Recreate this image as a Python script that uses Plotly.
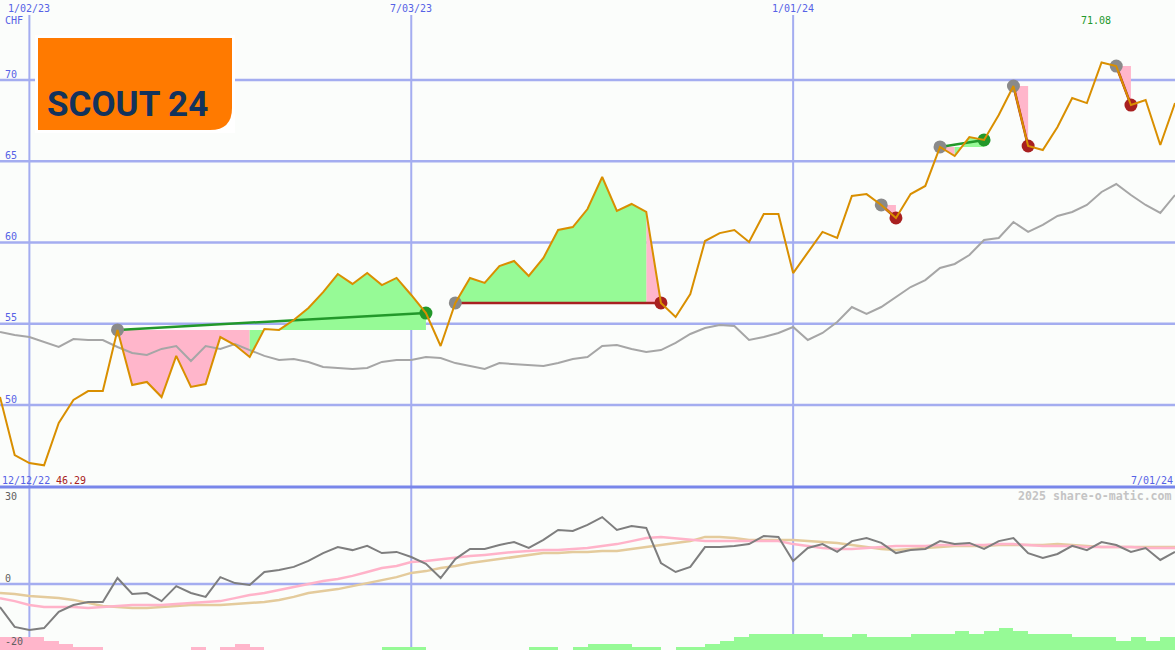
import plotly.graph_objects as go
import pandas as pd

W, H = 1175, 650

# ---------------- data ----------------
dates = pd.date_range("2022-12-19", periods=81, freq="7D")

price = [50.49, 46.92, 46.43, 46.29, 48.89, 50.31, 50.86, 50.86, 54.62, 51.23,
         51.42, 50.49, 53.02, 51.11, 51.29, 54.18, 53.69, 52.95, 54.68, 54.62,
         55.23, 55.97, 56.95, 58.06, 57.45, 58.12, 57.38, 57.82, 56.77, 55.66,
         53.63, 56.28, 57.82, 57.51, 58.55, 58.86, 57.94, 59.05, 60.77, 60.95,
         62.06, 64.03, 61.94, 62.37, 61.88, 56.28, 55.42, 56.83, 60.09, 60.58,
         60.77, 60.03, 61.75, 61.75, 58.12, 59.35, 60.65, 60.28, 62.86, 62.98,
         62.31, 61.51, 62.98, 63.48, 65.88, 65.32, 66.49, 66.31, 67.85, 69.63,
         65.94, 65.69, 67.11, 68.89, 68.58, 71.08, 70.86, 68.46, 68.77, 66.00,
         68.58]

bench = [54.49, 54.31, 54.18, 53.88, 53.57, 54.06, 54.0, 54.0, 53.57, 53.2,
         53.08, 53.45, 53.63, 52.71, 53.63, 53.45, 53.75, 53.38, 53.02, 52.77,
         52.83, 52.65, 52.34, 52.28, 52.22, 52.28, 52.65, 52.77, 52.77, 52.95,
         52.89, 52.58, 52.4, 52.22, 52.58, 52.52, 52.46, 52.4, 52.58, 52.83,
         52.95, 53.63, 53.69, 53.45, 53.26, 53.38, 53.82, 54.37, 54.74, 54.92,
         54.86, 54.0, 54.18, 54.43, 54.8, 54.0, 54.43, 55.11, 56.03, 55.6,
         56.03, 56.65, 57.26, 57.69, 58.43, 58.68, 59.23, 60.15, 60.28, 61.26,
         60.65, 61.08, 61.63, 61.88, 62.31, 63.11, 63.6, 62.92, 62.31, 61.82,
         62.92]

osc = [-7.7, -14.3, -15.3, -14.7, -9.3, -7.0, -6.0, -6.0, 2.0, -3.3,
       -3.0, -5.7, -0.7, -3.0, -4.3, 2.3, 0.3, -0.3, 4.0, 4.7,
       5.7, 7.7, 10.3, 12.3, 11.3, 12.7, 10.3, 10.7, 9.0, 6.7,
       2.0, 8.3, 11.7, 11.7, 13.0, 14.0, 12.0, 14.7, 18.0, 17.7,
       19.7, 22.3, 18.0, 19.3, 18.7, 7.0, 4.0, 5.7, 12.3, 12.3,
       12.7, 13.3, 16.0, 15.7, 7.7, 12.0, 13.3, 10.7, 14.3, 15.3,
       13.7, 10.3, 11.3, 11.7, 14.3, 13.3, 13.7, 11.7, 14.3, 15.3,
       10.3, 8.7, 10.0, 12.7, 11.3, 14.0, 13.0, 10.7, 12.0, 8.0,
       10.7]

osc_fast = [-4.7, -5.7, -7.0, -7.7, -7.7, -7.7, -8.0, -7.7, -7.3, -7.0,
            -7.0, -7.0, -6.7, -6.3, -6.0, -5.7, -4.7, -3.7, -3.0, -2.0,
            -1.0, 0.0, 1.0, 1.7, 2.7, 4.0, 5.3, 6.0, 7.3, 7.7,
            8.3, 8.7, 9.3, 9.7, 10.3, 10.7, 11.0, 11.3, 11.3, 11.7,
            12.0, 12.7, 13.3, 14.3, 15.3, 15.7, 15.3, 14.7, 14.3, 14.3,
            14.3, 14.3, 14.3, 14.3, 13.3, 12.7, 12.0, 11.7, 11.7, 12.0,
            12.3, 12.7, 12.7, 12.7, 13.0, 13.0, 13.0, 13.0, 13.3, 13.3,
            13.0, 12.7, 12.7, 12.7, 12.3, 12.3, 12.3, 12.3, 12.0, 12.0,
            12.0]

osc_slow = [-3.0, -3.3, -4.0, -4.3, -4.7, -5.3, -6.3, -7.3, -7.7, -8.0,
            -8.0, -7.7, -7.3, -7.0, -7.0, -7.0, -6.7, -6.3, -6.0, -5.3,
            -4.3, -3.0, -2.3, -1.7, -0.7, 0.3, 1.3, 2.3, 3.7, 4.3,
            5.3, 6.0, 7.0, 7.7, 8.3, 9.0, 9.7, 10.3, 10.3, 10.7,
            10.7, 11.0, 11.0, 11.7, 12.3, 13.0, 13.7, 14.3, 15.7, 15.7,
            15.3, 14.7, 14.7, 14.7, 14.7, 14.3, 14.0, 13.7, 13.0, 12.3,
            11.7, 11.3, 11.7, 12.0, 12.3, 12.7, 12.7, 12.7, 13.0, 13.0,
            13.0, 13.0, 13.3, 13.0, 12.7, 12.3, 12.3, 12.3, 12.3, 12.3,
            12.3]

hist = [-4, -4, -4, -3, -2, -1, -1, 0, 0, 0,
        0, 0, 0, -1, 0, -1, -2, -1, 0, 0,
        0, 0, 0, 0, 0, 0, 1, 1, 1, 0,
        0, 0, 0, 0, 0, 0, 1, 1, 0, 1,
        2, 2, 2, 1, 1, 0, 1, 1, 2, 3,
        4, 5, 5, 5, 5, 5, 4, 4, 5, 4,
        4, 4, 5, 5, 5, 6, 5, 6, 7, 6,
        5, 5, 5, 4, 4, 4, 3, 4, 3, 4]

trade_entries = [8, 31, 60, 64, 69, 76]
trade_exits = [29, 45, 61, 67, 70, 77]

price_ticks = [70, 65, 60, 55, 50]
osc_ticks = [30, 0, -20]
date_ticks = ["2023-01-02", "2023-07-03", "2024-01-01"]
date_tick_labels = ["1/02/23", "7/03/23", "1/01/24"]
start_label, low_label = "12/12/22", "46.29"
end_label, high_label = "7/01/24", "71.08"

# ---------------- styles ----------------
BG = "#FBFDFB"
GRID = "#A4ADF0"
BLUE_TXT = "#5662E6"
ORANGE = "#D98F00"
PINK = "#FFB6CB"
LGREEN = "#96FA96"
GREEN = "#22982A"
RED = "#A82020"
MONO = "DejaVu Sans Mono, monospace"

SPLIT = 487  # pixel row of separator
main_dom = [1 - SPLIT / H, 1]
low_dom = [0, 1 - SPLIT / H]
main_rng = [70 - (SPLIT - 80) / 16.25, 70 + 80 / 16.25]
low_rng = [(584 - 650) / 3.0, (584 - SPLIT) / 3.0]
hist_rng = [0, (650 - SPLIT) / 3.14]


def px(x):
    return x / W


def py(y):
    return 1 - y / H


fig = go.Figure()

# ---- trade fills ----
gx, gy, rx, ry = [], [], [], []
for e, x in zip(trade_entries, trade_exits):
    lvl = price[e]
    for i in range(e, x):
        xs = [dates[i], dates[i], dates[i + 1], dates[i + 1], dates[i], None]
        ys = [lvl, price[i], price[i + 1], lvl, lvl, None]
        if price[i + 1] > lvl:
            gx += xs
            gy += ys
        else:
            rx += xs
            ry += ys
fig.add_trace(go.Scatter(x=rx, y=ry, fill="toself", fillcolor=PINK, mode="lines",
                         line=dict(width=0, color=PINK), hoverinfo="skip", showlegend=False))
fig.add_trace(go.Scatter(x=gx, y=gy, fill="toself", fillcolor=LGREEN, mode="lines",
                         line=dict(width=0, color=LGREEN), hoverinfo="skip", showlegend=False))

# ---- benchmark ----
fig.add_trace(go.Scatter(x=dates, y=bench, mode="lines", line=dict(color="#A6A6A6", width=2),
                         showlegend=False))

# ---- trade lines & markers ----
for e, x in zip(trade_entries, trade_exits):
    col = GREEN if price[x] > price[e] else RED
    fig.add_trace(go.Scatter(x=[dates[e], dates[x]], y=[price[e], price[x]], mode="lines",
                             line=dict(color=col, width=2.5), showlegend=False))
    fig.add_trace(go.Scatter(x=[dates[e]], y=[price[e]], mode="markers",
                             marker=dict(color="#8A8A8A", size=13, line=dict(width=0)),
                             showlegend=False))
    fig.add_trace(go.Scatter(x=[dates[x]], y=[price[x]], mode="markers",
                             marker=dict(color=col, size=13, line=dict(width=0)),
                             showlegend=False))

# ---- price ----
fig.add_trace(go.Scatter(x=dates, y=price, mode="lines", line=dict(color=ORANGE, width=2),
                         showlegend=False))

# ---- lower panel ----
hx = [dates[i] + pd.Timedelta(hours=84) for i in range(len(hist)) if hist[i] != 0]
hy = [abs(v) for v in hist if v != 0]
hc = [LGREEN if v > 0 else PINK for v in hist if v != 0]
fig.add_trace(go.Bar(x=hx, y=hy, marker=dict(color=hc, line=dict(width=0)),
                     width=7 * 86400000, yaxis="y3", showlegend=False))
fig.add_trace(go.Scatter(x=dates, y=osc_slow, mode="lines", yaxis="y2",
                         line=dict(color="#E4CB9C", width=2.5, shape="linear"), showlegend=False))
fig.add_trace(go.Scatter(x=dates, y=osc_fast, mode="lines", yaxis="y2",
                         line=dict(color="#FFB3C9", width=2.5), showlegend=False))
fig.add_trace(go.Scatter(x=dates, y=osc, mode="lines", yaxis="y2",
                         line=dict(color="#7E7E7E", width=2), showlegend=False))

# ---------------- shapes ----------------
shapes = []
for v in price_ticks:
    shapes.append(dict(type="line", xref="paper", yref="y", x0=0, x1=1, y0=v, y1=v,
                       line=dict(color=GRID, width=2.5), layer="below"))
for d in date_ticks:
    shapes.append(dict(type="line", xref="x", yref="paper", x0=d, x1=d, y0=py(15), y1=0,
                       line=dict(color=GRID, width=2), layer="below"))
shapes.append(dict(type="line", xref="paper", yref="y2", x0=0, x1=1, y0=0, y1=0,
                   line=dict(color=GRID, width=2.5), layer="below"))
shapes.append(dict(type="line", xref="paper", yref="paper", x0=0, x1=1, y0=py(SPLIT), y1=py(SPLIT),
                   line=dict(color="#7886EA", width=3), layer="below"))
# logo
shapes.append(dict(type="rect", xref="paper", yref="paper", x0=px(35), x1=px(235), y0=py(133), y1=py(35),
                   fillcolor="#FFFFFF", line=dict(width=0), layer="above"))
logo_path = (f"M {px(38)} {py(38)} L {px(232)} {py(38)} L {px(232)} {py(108)} "
             f"Q {px(232)} {py(130)} {px(210)} {py(130)} L {px(38)} {py(130)} Z")
shapes.append(dict(type="path", xref="paper", yref="paper", path=logo_path,
                   fillcolor="#FF7A00", line=dict(width=0), layer="above"))

# ---------------- annotations ----------------
ann = []


def txt(text, x, y, color, size=10, xanchor="left", xref="paper", yref="paper", yshift=0, bold=False):
    ann.append(dict(text=f"<b>{text}</b>" if bold else text, x=x, y=y, xref=xref, yref=yref,
                    xanchor=xanchor, yanchor="middle", showarrow=False, yshift=yshift,
                    font=dict(family=MONO, size=size, color=color), borderpad=0))


for d, lab in zip(date_ticks, date_tick_labels):
    txt(lab, d, py(8), BLUE_TXT, xanchor="center", xref="x")
txt("CHF", px(4), py(20), BLUE_TXT)
for v in price_ticks:
    txt(str(v), px(4), v, BLUE_TXT, yref="y", yshift=6)
txt(high_label, px(1096), py(20), GREEN, xanchor="center")
txt(start_label, px(1), py(480), BLUE_TXT)
txt(low_label, px(55), py(480), RED)
txt(end_label, px(1174), py(480), BLUE_TXT, xanchor="right")
txt("2025 share-o-matic.com", px(1173), py(496), "#C4C4C4", size=11.6, xanchor="right", bold=True)
osc_shift = {30: -2, 0: 6, -20: 3}
for v in osc_ticks:
    txt(str(v), px(4), v, "#606060", yref="y2", yshift=osc_shift[v])

ann.append(dict(text="<b>SCOUT 24</b>", x=px(127), y=py(104), xref="paper", yref="paper",
                xanchor="center", yanchor="middle", showarrow=False,
                font=dict(family="Roboto, sans-serif", size=35, color="#13335C")))

fig.update_layout(
    width=W, height=H, margin=dict(l=0, r=0, t=0, b=0),
    paper_bgcolor=BG, plot_bgcolor=BG,
    showlegend=False, bargap=0,
    xaxis=dict(type="date", range=[dates[0], dates[-1]], visible=False, showgrid=False,
               zeroline=False, anchor="y", domain=[0, 1]),
    yaxis=dict(domain=main_dom, range=main_rng, visible=False, showgrid=False, zeroline=False),
    yaxis2=dict(domain=low_dom, range=low_rng, visible=False, showgrid=False, zeroline=False,
                anchor="x"),
    yaxis3=dict(domain=low_dom, range=hist_rng, visible=False, showgrid=False, zeroline=False,
                anchor="x", overlaying="y2"),
    shapes=shapes, annotations=ann,
)

fig.write_html("out.html", config=dict(displayModeBar=False),
               post_script="document.body.style.margin='0';document.body.style.padding='0';"
                           "document.body.style.overflow='hidden';")
